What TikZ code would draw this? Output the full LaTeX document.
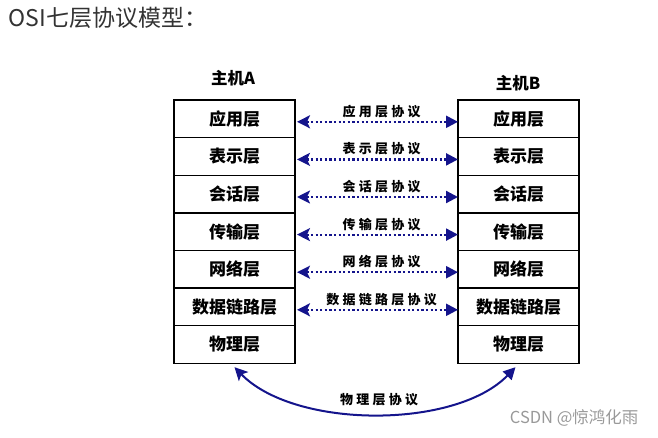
\documentclass[tikz,border=0pt]{standalone}
\usepackage{fontspec}
\setmainfont{Noto Sans CJK SC}
\newfontfamily\protofont{Noto Sans CJK SC}[LetterSpace=25]
\usepackage{xcolor}
\usetikzlibrary{
    arrows.meta,
    positioning,
    calc
}
\definecolor{protoblue}{RGB}{20,20,140}
\definecolor{titlegray}{RGB}{51,51,51}
\tikzset{%
    % Specifications for style of nodes:
    layer/.style = {
        rectangle, draw=black, line width=1.4pt,
        minimum width=121pt, minimum height=37.6pt,
        inner sep=0pt, outer sep=0pt,
        text centered, font=\fontsize{17}{18}\selectfont\bfseries
    },
    host/.style = {font=\fontsize{16.5}{18}\selectfont\bfseries},
    proto/.style = {inner sep=2pt, text=black, font=\protofont\fontsize{13}{14}\selectfont\bfseries},
    peer/.style = {
        protoblue, line width=2.2pt, dash pattern=on 2.2pt off 2.4pt,
        {Stealth[width=13pt,length=13pt,inset=3pt]}-{Triangle[width=12pt,length=12pt]}
    }
}

\begin{document}
\begin{tikzpicture}[x=1pt, y=-1pt]
    \useasboundingbox (0,0) rectangle (658,437);
    \node[anchor=west, titlegray, font=\fontsize{23}{26}\selectfont] (title) at (5,18) {OSI七层协议模型：};
    % host A
    \node[host] (hostA) at (233,78) {主机A};
    \node[layer] (a1) at (234.5,118.8) {应用层};
    \node[layer, below=0pt of a1] (a2) {表示层};
    \node[layer, below=0pt of a2] (a3) {会话层};
    \node[layer, below=0pt of a3] (a4) {传输层};
    \node[layer, below=0pt of a4] (a5) {网络层};
    \node[layer, below=0pt of a5] (a6) {数据链路层};
    \node[layer, below=0pt of a6] (a7) {物理层};
    % host B
    \node[host] (hostB) at (518,83) {主机B};
    \node[layer] (b1) at (518.5,118.8) {应用层};
    \node[layer, below=0pt of b1] (b2) {表示层};
    \node[layer, below=0pt of b2] (b3) {会话层};
    \node[layer, below=0pt of b3] (b4) {传输层};
    \node[layer, below=0pt of b4] (b5) {网络层};
    \node[layer, below=0pt of b5] (b6) {数据链路层};
    \node[layer, below=0pt of b6] (b7) {物理层};
    % peer protocols
    \draw[peer] ([shift={(2pt,-3pt)}]a1.east) -- node[proto, above=1pt, xshift=4pt] (p1) {应用层协议} ([yshift=-3pt]b1.west);
    \draw[peer] ([shift={(2pt,-3pt)}]a2.east) -- node[proto, above=1pt, xshift=4pt] (p2) {表示层协议} ([yshift=-3pt]b2.west);
    \draw[peer] ([shift={(2pt,-3pt)}]a3.east) -- node[proto, above=1pt, xshift=4pt] (p3) {会话层协议} ([yshift=-3pt]b3.west);
    \draw[peer] ([shift={(2pt,-3pt)}]a4.east) -- node[proto, above=1pt, xshift=4pt] (p4) {传输层协议} ([yshift=-3pt]b4.west);
    \draw[peer] ([shift={(2pt,-3pt)}]a5.east) -- node[proto, above=1pt, xshift=4pt] (p5) {网络层协议} ([yshift=-3pt]b5.west);
    \draw[peer] ([shift={(2pt,-3pt)}]a6.east) -- node[proto, above=1pt, xshift=4pt] (p6) {数据链路层协议} ([yshift=-3pt]b6.west);
    \draw[peer, solid, line width=2pt] ([yshift=-4pt]a7.south) .. controls +(60,62) and +(-60,62) .. node[proto, above=5pt, xshift=4pt] (p7) {物理层协议} ([shift={(-3pt,-4pt)}]b7.south);
    \node[anchor=east, text=gray!80, font=\fontsize{16.5}{18}\selectfont] (mark) at (642,418) {CSDN @惊鸿化雨};
\end{tikzpicture}
\end{document}
